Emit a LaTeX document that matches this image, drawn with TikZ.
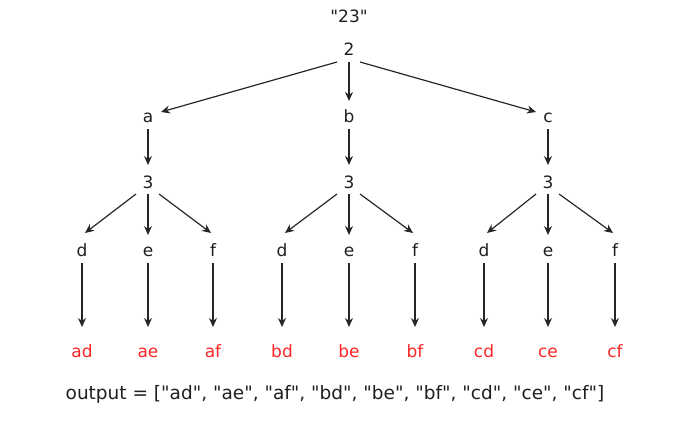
\documentclass[tikz,border=0pt]{standalone}
\usepackage{fontspec}
\setmainfont{DejaVu Sans}[Ligatures=TeXOff]
\usetikzlibrary{arrows.meta}
\definecolor{leafred}{RGB}{255,38,38}
\tikzset{
  lbl/.style={font=\fontsize{17}{20}\selectfont, inner sep=0pt, anchor=base, text=black!88},
  res/.style={lbl, text=leafred},
  arr/.style={-{Stealth[length=9pt,width=8pt]}, line width=1.2pt, black!85},
}
\begin{document}
\begin{tikzpicture}[x=1pt,y=-1pt]
\useasboundingbox (0,0) rectangle (698,422);
% baselines of the rows
\def\yIn{23}\def\yTwo{56}\def\yLet{123}\def\yThr{189}\def\yLeaf{256}\def\yRes{357}\def\yOut{399}
\node[lbl] (inp) at (349,\yIn) {"23"};
\node[lbl] (two) at (349,\yTwo) {2};
\node[lbl] (a) at (148,\yLet) {a};
\node[lbl] (b) at (349,\yLet) {b};
\node[lbl] (c) at (548,\yLet) {c};
\coordinate (twoL) at (337,62);
\coordinate (twoR) at (360,62);
\coordinate (twoB) at (349,62);
\coordinate (aT) at (161,112);
\coordinate (bT) at (349,101);
\coordinate (cT) at (536,112);
\draw[arr] (twoL) -- (aT);
\draw[arr] (twoB) -- (bT);
\draw[arr] (twoR) -- (cT);
\foreach \n/\xd/\xe/\xf in {a/82/148/213,b/282/349/415,c/484/548/615}{
  \node[lbl] (t\n) at (\xe,\yThr) {3};
  \coordinate (\n B) at (\xe,129);
  \coordinate (t\n T) at (\xe,165);
  \draw[arr] (\n B) -- (t\n T);
  \node[lbl] (\n d) at (\xd,\yLeaf) {d};
  \node[lbl] (\n e) at (\xe,\yLeaf) {e};
  \node[lbl] (\n f) at (\xf,\yLeaf) {f};
  \coordinate (\n L) at (\xe-12,194);
  \coordinate (\n M) at (\xe,194);
  \coordinate (\n R) at (\xe+11,194);
  \coordinate (\n dT) at (\xd+3,233);
  \coordinate (\n eT) at (\xe,235);
  \coordinate (\n fT) at (\xf-2,233);
  \draw[arr] (\n L) -- (\n dT);
  \draw[arr] (\n M) -- (\n eT);
  \draw[arr] (\n R) -- (\n fT);
  \node[res] (r\n d) at (\xd,\yRes) {\n d};
  \node[res] (r\n e) at (\xe,\yRes) {\n e};
  \node[res] (r\n f) at (\xf,\yRes) {\n f};
  \foreach \k/\x in {d/\xd,e/\xe,f/\xf}{
    \coordinate (\n\k B) at (\x,263);
    \coordinate (r\n\k T) at (\x,327);
    \draw[arr] (\n\k B) -- (r\n\k T);
  }
}
\node[lbl, font=\fontsize{18.5}{22}\selectfont] (out) at (335,\yOut) {output = ["ad", "ae", "af", "bd", "be", "bf", "cd", "ce", "cf"]};
\end{tikzpicture}
\end{document}
